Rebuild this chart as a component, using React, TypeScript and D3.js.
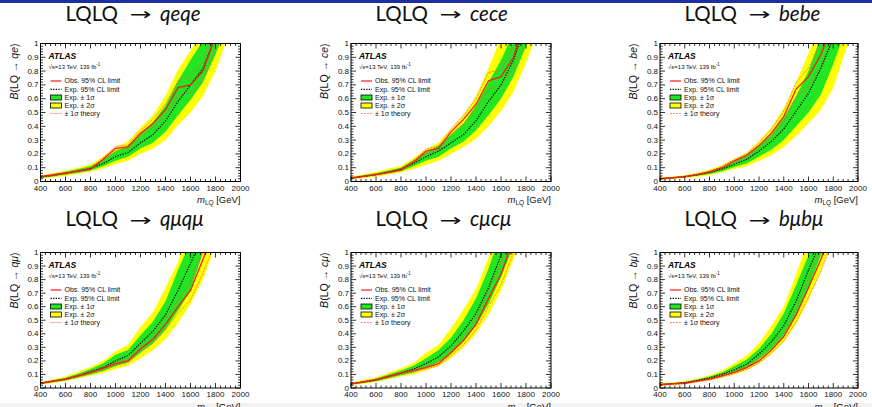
import React from "react";
import * as d3 from "d3";

// ---------- data ----------
const masses = [400, 500, 600, 700, 800, 900, 1000, 1100, 1200, 1300, 1400, 1500, 1600, 1700, 1800, 1900, 2000];
const xTicks = [400, 600, 800, 1000, 1200, 1400, 1600, 1800, 2000];
const yTicks = [0, 0.1, 0.2, 0.3, 0.4, 0.5, 0.6, 0.7, 0.8, 0.9, 1];
const yTickLabels = ["0", "0.1", "0.2", "0.3", "0.4", "0.5", "0.6", "0.7", "0.8", "0.9", "1"];
const titles = ["qeqe", "cece", "bebe", "qμqμ", "cμcμ", "bμbμ"];
const channels = ["qe", "ce", "be", "qμ", "cμ", "bμ"];
const legendLabels = ["Obs. 95% CL limit", "Exp. 95% CL limit", "Exp. ± 1σ", "Exp. ± 2σ", "± 1σ theory"];

// qeqe
const qeObs = [0.036, 0.047, 0.06, 0.075, 0.09, 0.16, 0.24, 0.25, 0.35, 0.42, 0.52, 0.68, 0.70, 0.80, 1.06, 1.3, 1.5];
const qeExp = [0.03, 0.045, 0.06, 0.075, 0.095, 0.13, 0.18, 0.21, 0.28, 0.34, 0.44, 0.58, 0.70, 0.82, 1.05, 1.3, 1.5];
const qeS1Hi = [0.04, 0.055, 0.07, 0.09, 0.11, 0.16, 0.22, 0.26, 0.35, 0.43, 0.55, 0.73, 0.88, 1.02, 1.2, 1.4, 1.6];
const qeS1Lo = [0.025, 0.037, 0.05, 0.063, 0.08, 0.11, 0.15, 0.18, 0.24, 0.28, 0.36, 0.48, 0.59, 0.72, 0.92, 1.15, 1.4];
const qeS2Hi = [0.045, 0.062, 0.08, 0.1, 0.125, 0.18, 0.25, 0.29, 0.39, 0.48, 0.62, 0.81, 0.95, 1.1, 1.3, 1.5, 1.7];
const qeS2Lo = [0.02, 0.03, 0.04, 0.055, 0.07, 0.095, 0.125, 0.15, 0.2, 0.24, 0.3, 0.41, 0.5, 0.62, 0.8, 1.05, 1.3];
const qeThHi = [0.04, 0.051, 0.065, 0.08, 0.097, 0.17, 0.255, 0.265, 0.37, 0.45, 0.56, 0.73, 0.76, 0.87, 1.15, 1.4, 1.6];
const qeThLo = [0.033, 0.043, 0.055, 0.069, 0.083, 0.15, 0.225, 0.235, 0.33, 0.39, 0.48, 0.62, 0.64, 0.74, 0.97, 1.2, 1.4];

// cece
const ceObs = [0.025, 0.037, 0.05, 0.066, 0.085, 0.14, 0.22, 0.24, 0.36, 0.45, 0.56, 0.73, 0.76, 0.9, 1.2, 1.4, 1.6];
const ceExp = [0.025, 0.037, 0.05, 0.068, 0.09, 0.13, 0.18, 0.22, 0.28, 0.34, 0.44, 0.58, 0.70, 0.88, 1.15, 1.4, 1.6];
const ceS1Hi = [0.03, 0.045, 0.06, 0.08, 0.1, 0.155, 0.21, 0.26, 0.34, 0.42, 0.55, 0.72, 0.88, 1.08, 1.3, 1.5, 1.7];
const ceS1Lo = [0.02, 0.032, 0.045, 0.06, 0.075, 0.11, 0.15, 0.18, 0.24, 0.29, 0.37, 0.48, 0.6, 0.76, 0.98, 1.2, 1.4];
const ceS2Hi = [0.035, 0.052, 0.07, 0.092, 0.115, 0.17, 0.235, 0.28, 0.38, 0.48, 0.62, 0.82, 1.05, 1.25, 1.45, 1.65, 1.85];
const ceS2Lo = [0.015, 0.025, 0.035, 0.05, 0.065, 0.09, 0.12, 0.15, 0.2, 0.25, 0.31, 0.4, 0.51, 0.65, 0.86, 1.1, 1.3];
const ceThHi = [0.028, 0.041, 0.055, 0.072, 0.093, 0.15, 0.235, 0.255, 0.38, 0.48, 0.6, 0.79, 0.81, 0.97, 1.3, 1.5, 1.7];
const ceThLo = [0.022, 0.033, 0.045, 0.06, 0.078, 0.13, 0.205, 0.225, 0.34, 0.42, 0.52, 0.67, 0.70, 0.82, 1.1, 1.3, 1.5];

// bebe
const beObs = [0.02, 0.027, 0.035, 0.05, 0.07, 0.1, 0.15, 0.19, 0.26, 0.35, 0.47, 0.67, 0.76, 0.92, 1.15, 1.4, 1.6];
const beExp = [0.02, 0.027, 0.035, 0.048, 0.065, 0.09, 0.125, 0.16, 0.22, 0.29, 0.38, 0.51, 0.64, 0.82, 1.04, 1.3, 1.5];
const beS1Hi = [0.025, 0.032, 0.04, 0.056, 0.075, 0.105, 0.145, 0.19, 0.26, 0.34, 0.46, 0.62, 0.8, 1.05, 1.3, 1.5, 1.7];
const beS1Lo = [0.015, 0.022, 0.03, 0.042, 0.055, 0.075, 0.105, 0.13, 0.18, 0.23, 0.3, 0.4, 0.5, 0.63, 0.85, 1.1, 1.3];
const beS2Hi = [0.03, 0.037, 0.045, 0.063, 0.085, 0.12, 0.165, 0.21, 0.29, 0.39, 0.53, 0.72, 0.93, 1.15, 1.4, 1.6, 1.8];
const beS2Lo = [0.012, 0.018, 0.025, 0.034, 0.045, 0.065, 0.09, 0.11, 0.15, 0.19, 0.25, 0.33, 0.42, 0.52, 0.68, 0.95, 1.2];
const beThHi = [0.023, 0.03, 0.039, 0.055, 0.076, 0.108, 0.16, 0.2, 0.28, 0.38, 0.51, 0.72, 0.82, 1.0, 1.25, 1.5, 1.7];
const beThLo = [0.018, 0.024, 0.032, 0.046, 0.064, 0.093, 0.14, 0.175, 0.24, 0.32, 0.43, 0.61, 0.69, 0.84, 1.05, 1.3, 1.5];

// qmuqmu
const qmObs = [0.035, 0.05, 0.065, 0.09, 0.115, 0.145, 0.18, 0.2, 0.29, 0.36, 0.47, 0.6, 0.72, 0.95, 1.2, 1.4, 1.6];
const qmExp = [0.035, 0.05, 0.065, 0.09, 0.12, 0.15, 0.2, 0.24, 0.33, 0.42, 0.54, 0.72, 0.92, 1.12, 1.35, 1.55, 1.75];
const qmS1Hi = [0.04, 0.057, 0.075, 0.105, 0.14, 0.18, 0.245, 0.28, 0.39, 0.49, 0.64, 0.87, 1.08, 1.3, 1.5, 1.7, 1.9];
const qmS1Lo = [0.03, 0.042, 0.055, 0.078, 0.1, 0.125, 0.16, 0.19, 0.26, 0.33, 0.43, 0.57, 0.72, 1.0, 1.2, 1.4, 1.6];
const qmS2Hi = [0.045, 0.065, 0.085, 0.12, 0.155, 0.2, 0.27, 0.32, 0.45, 0.56, 0.74, 0.93, 1.2, 1.4, 1.6, 1.8, 2.0];
const qmS2Lo = [0.025, 0.037, 0.05, 0.07, 0.09, 0.11, 0.14, 0.165, 0.22, 0.28, 0.36, 0.48, 0.62, 0.8, 1.05, 1.3, 1.5];
const qmThHi = [0.038, 0.054, 0.07, 0.097, 0.123, 0.155, 0.19, 0.215, 0.31, 0.39, 0.51, 0.65, 0.78, 1.03, 1.3, 1.5, 1.7];
const qmThLo = [0.032, 0.046, 0.06, 0.083, 0.107, 0.135, 0.17, 0.185, 0.27, 0.33, 0.43, 0.55, 0.65, 0.85, 1.08, 1.3, 1.5];

// cmucmu
const cmObs = [0.03, 0.045, 0.06, 0.085, 0.11, 0.13, 0.15, 0.18, 0.26, 0.35, 0.47, 0.66, 0.84, 1.1, 1.3, 1.5, 1.7];
const cmExp = [0.03, 0.045, 0.06, 0.085, 0.11, 0.14, 0.18, 0.23, 0.31, 0.42, 0.55, 0.74, 0.98, 1.25, 1.5, 1.7, 1.9];
const cmS1Hi = [0.035, 0.052, 0.07, 0.1, 0.13, 0.165, 0.22, 0.28, 0.37, 0.5, 0.66, 0.88, 1.15, 1.4, 1.6, 1.8, 2.0];
const cmS1Lo = [0.025, 0.037, 0.05, 0.072, 0.095, 0.115, 0.15, 0.19, 0.26, 0.35, 0.46, 0.62, 0.82, 1.05, 1.3, 1.5, 1.7];
const cmS2Hi = [0.04, 0.06, 0.08, 0.112, 0.145, 0.185, 0.26, 0.32, 0.44, 0.58, 0.73, 0.96, 1.2, 1.45, 1.7, 1.9, 2.1];
const cmS2Lo = [0.02, 0.032, 0.045, 0.065, 0.085, 0.1, 0.13, 0.16, 0.22, 0.3, 0.4, 0.54, 0.72, 0.95, 1.2, 1.4, 1.6];
const cmThHi = [0.033, 0.049, 0.065, 0.092, 0.118, 0.14, 0.16, 0.195, 0.28, 0.38, 0.51, 0.72, 0.92, 1.2, 1.4, 1.6, 1.8];
const cmThLo = [0.027, 0.041, 0.055, 0.078, 0.102, 0.12, 0.14, 0.165, 0.24, 0.32, 0.43, 0.6, 0.76, 1.0, 1.2, 1.4, 1.6];

// bmubmu
const bmObs = [0.025, 0.03, 0.035, 0.05, 0.065, 0.09, 0.115, 0.15, 0.2, 0.28, 0.38, 0.54, 0.74, 0.95, 1.2, 1.4, 1.6];
const bmExp = [0.025, 0.032, 0.04, 0.055, 0.075, 0.1, 0.135, 0.175, 0.25, 0.34, 0.46, 0.64, 0.87, 1.08, 1.3, 1.5, 1.7];
const bmS1Hi = [0.03, 0.037, 0.045, 0.063, 0.085, 0.115, 0.16, 0.21, 0.29, 0.4, 0.55, 0.76, 0.98, 1.25, 1.5, 1.7, 1.9];
const bmS1Lo = [0.02, 0.027, 0.035, 0.048, 0.065, 0.085, 0.115, 0.15, 0.21, 0.29, 0.39, 0.54, 0.74, 0.98, 1.2, 1.4, 1.6];
const bmS2Hi = [0.035, 0.042, 0.05, 0.07, 0.095, 0.13, 0.18, 0.24, 0.33, 0.46, 0.6, 0.84, 1.1, 1.35, 1.6, 1.8, 2.0];
const bmS2Lo = [0.015, 0.022, 0.03, 0.042, 0.055, 0.075, 0.1, 0.13, 0.18, 0.25, 0.34, 0.47, 0.65, 0.86, 1.1, 1.3, 1.5];
const bmThHi = [0.028, 0.033, 0.039, 0.055, 0.071, 0.098, 0.125, 0.163, 0.218, 0.305, 0.415, 0.59, 0.81, 1.04, 1.3, 1.5, 1.7];
const bmThLo = [0.022, 0.027, 0.031, 0.045, 0.059, 0.082, 0.105, 0.137, 0.182, 0.255, 0.345, 0.49, 0.67, 0.86, 1.1, 1.3, 1.5];

// ---------- layout ----------
const W = 872;
const H = 407;
const colLeft = [40.5, 351, 660];
const colRight = [240.5, 551, 858];
const rowTop = [43.5, 252.5];
const rowBottom = [181.5, 388];
const titleX = [135, 445, 754];
const titleY = [20.5, 226];
const ylabX = [18, 328, 637];

const GREEN = "#22e622";
const YELLOW = "#ffff00";
const RED = "#ff1a1a";
const TICKFONT = "'Liberation Sans', Arial, sans-serif";
const TITLEFONT = "Lato, 'DejaVu Sans', sans-serif";

type PanelData = {
  obs: number[]; exp: number[]; s1Hi: number[]; s1Lo: number[];
  s2Hi: number[]; s2Lo: number[]; thHi: number[]; thLo: number[];
};

const panelData: PanelData[] = [
  { obs: qeObs, exp: qeExp, s1Hi: qeS1Hi, s1Lo: qeS1Lo, s2Hi: qeS2Hi, s2Lo: qeS2Lo, thHi: qeThHi, thLo: qeThLo },
  { obs: ceObs, exp: ceExp, s1Hi: ceS1Hi, s1Lo: ceS1Lo, s2Hi: ceS2Hi, s2Lo: ceS2Lo, thHi: ceThHi, thLo: ceThLo },
  { obs: beObs, exp: beExp, s1Hi: beS1Hi, s1Lo: beS1Lo, s2Hi: beS2Hi, s2Lo: beS2Lo, thHi: beThHi, thLo: beThLo },
  { obs: qmObs, exp: qmExp, s1Hi: qmS1Hi, s1Lo: qmS1Lo, s2Hi: qmS2Hi, s2Lo: qmS2Lo, thHi: qmThHi, thLo: qmThLo },
  { obs: cmObs, exp: cmExp, s1Hi: cmS1Hi, s1Lo: cmS1Lo, s2Hi: cmS2Hi, s2Lo: cmS2Lo, thHi: cmThHi, thLo: cmThLo },
  { obs: bmObs, exp: bmExp, s1Hi: bmS1Hi, s1Lo: bmS1Lo, s2Hi: bmS2Hi, s2Lo: bmS2Lo, thHi: bmThHi, thLo: bmThLo },
];

function Title({ cx, cy, text }: { cx: number; cy: number; text: string }) {
  return (
    <g fill="#111">
      <text x={cx - 17} y={cy} textAnchor="end" fontFamily={TITLEFONT} fontSize={20.5}>
        LQLQ
      </text>
      <text transform={`translate(${cx + 5.5},${cy - 0.5}) scale(1.55,1)`} textAnchor="middle" fontFamily="'DejaVu Sans', sans-serif" fontSize={17}>
        →
      </text>
      <text x={cx + 25} y={cy} textAnchor="start" fontFamily={TITLEFONT} fontSize={20.5} fontStyle="italic">
        {text}
      </text>
    </g>
  );
}

function Panel({ idx }: { idx: number }) {
  const col = idx % 3;
  const row = Math.floor(idx / 3);
  const L = colLeft[col];
  const R = colRight[col];
  const T = rowTop[row];
  const B = rowBottom[row];
  const d = panelData[idx];
  const x = d3.scaleLinear().domain([400, 2000]).range([L, R]);
  const y = d3.scaleLinear().domain([0, 1]).range([B, T]);
  const pts = (arr: number[]) => masses.map((m, i) => [m, arr[i]] as [number, number]);
  const line = d3.line<[number, number]>().x((p) => x(p[0])).y((p) => y(p[1]));
  const band = (lo: number[], hi: number[]) =>
    d3.area<number>().x((m) => x(m)).y0((_, i) => y(lo[i])).y1((_, i) => y(hi[i]))(masses) || "";
  const clipId = `clip${idx}`;

  const xMinor = d3.range(400, 2000.1, 40);
  const yMinor = d3.range(0, 1.0001, 0.02);
  const majLen = 5;
  const minLen = 2.5;

  const legY = [T + 37.5, T + 45.8, T + 54, T + 62, T + 70];
  const lx0 = L + 10;
  const lx1 = L + 21;
  const tx = L + 24;

  return (
    <g>
      <defs>
        <clipPath id={clipId}>
          <rect x={L} y={T} width={R - L} height={B - T} />
        </clipPath>
      </defs>
      <Title cx={titleX[col]} cy={titleY[row]} text={titles[idx]} />
      <g clipPath={`url(#${clipId})`}>
        <path d={band(d.s2Lo, d.s2Hi)} fill={YELLOW} />
        <path d={band(d.s1Lo, d.s1Hi)} fill={GREEN} />
        <path d={line(pts(d.thHi)) || ""} fill="none" stroke="#ff5555" strokeWidth={0.7} strokeDasharray="2,1" />
        <path d={line(pts(d.thLo)) || ""} fill="none" stroke="#ff5555" strokeWidth={0.7} strokeDasharray="2,1" />
        <path d={line(pts(d.exp)) || ""} fill="none" stroke="#000" strokeWidth={1.2} strokeDasharray="1.3,1.3" />
        <path d={line(pts(d.obs)) || ""} fill="none" stroke={RED} strokeWidth={1.3} />
      </g>
      {/* frame */}
      <rect x={L} y={T} width={R - L} height={B - T} fill="none" stroke="#000" strokeWidth={1} />
      {/* ticks */}
      {xMinor.map((m) => {
        const maj = (m - 400) % 200 === 0;
        const len = maj ? majLen : minLen;
        return (
          <g key={`xt${m}`}>
            <line x1={x(m)} x2={x(m)} y1={B} y2={B - len} stroke="#000" strokeWidth={0.8} />
            <line x1={x(m)} x2={x(m)} y1={T} y2={T + len} stroke="#000" strokeWidth={0.8} />
          </g>
        );
      })}
      {yMinor.map((v, i) => {
        const maj = i % 5 === 0;
        const len = maj ? majLen : minLen;
        return (
          <g key={`yt${i}`}>
            <line x1={L} x2={L + len} y1={y(v)} y2={y(v)} stroke="#000" strokeWidth={0.8} />
            <line x1={R} x2={R - len} y1={y(v)} y2={y(v)} stroke="#000" strokeWidth={0.8} />
          </g>
        );
      })}
      {xTicks.map((m) => (
        <text key={`xl${m}`} x={x(m)} y={B + 9} textAnchor="middle" fontFamily={TICKFONT} fontSize={8} fill="#111">
          {m}
        </text>
      ))}
      {yTicks.map((v, i) => (
        <text key={`yl${i}`} x={L - 2} y={y(v) + 2.5} textAnchor="end" fontFamily={TICKFONT} fontSize={8} fill="#111">
          {yTickLabels[i]}
        </text>
      ))}
      {/* axis titles */}
      <text x={R} y={B + 21.5} textAnchor="end" fontFamily={TICKFONT} fontSize={9.5} fill="#111">
        <tspan fontStyle="italic">m</tspan>
        <tspan fontSize={6.5} dy={2}>LQ</tspan>
        <tspan dy={-2}> [GeV]</tspan>
      </text>
      <text transform={`translate(${ylabX[col]},${T}) rotate(-90)`} textAnchor="end" fontFamily={TICKFONT} fontSize={10.5} fill="#111">
        <tspan fontStyle="italic">B</tspan>(LQ → <tspan fontStyle="italic">{channels[idx]}</tspan>)
      </text>
      {/* ATLAS label */}
      <text x={L + 8} y={T + 15.5} fontFamily={TICKFONT} fontSize={8.5} fontWeight="bold" fontStyle="italic" fill="#000">
        ATLAS
      </text>
      <text x={L + 8} y={T + 25} fontFamily={TICKFONT} fontSize={6} fill="#111">
        √s=13 TeV, 139 fb<tspan fontSize={4.5} dy={-2.5}>-1</tspan>
      </text>
      {/* legend */}
      <line x1={lx0} x2={lx1} y1={legY[0]} y2={legY[0]} stroke={RED} strokeWidth={1.2} />
      <line x1={lx0} x2={lx1} y1={legY[1]} y2={legY[1]} stroke="#000" strokeWidth={1.2} strokeDasharray="1.3,1.3" />
      <rect x={lx0} y={legY[2] - 2.5} width={lx1 - lx0} height={5} fill={GREEN} stroke="#000" strokeWidth={0.8} />
      <rect x={lx0} y={legY[3] - 2.5} width={lx1 - lx0} height={5} fill={YELLOW} stroke="#000" strokeWidth={0.8} />
      <line x1={lx0} x2={lx1} y1={legY[4]} y2={legY[4]} stroke="#ff5555" strokeWidth={0.7} strokeDasharray="2,1" />
      {legendLabels.map((s, i) => (
        <text key={`lg${i}`} x={tx} y={legY[i] + 2.4} fontFamily={TICKFONT} fontSize={7} fill="#111">
          {s}
        </text>
      ))}
    </g>
  );
}

export default function App() {
  return (
    <svg width={W} height={H} style={{ position: "absolute", left: 0, top: 0, display: "block" }} xmlns="http://www.w3.org/2000/svg">
      <rect x={0} y={0} width={W} height={H} fill="#fff" />
      <rect x={0} y={403} width={W} height={4} fill="#f2f2f2" />
      {titles.map((_, i) => (
        <Panel key={i} idx={i} />
      ))}
      <rect x={0} y={0} width={W} height={3} fill="#1b2f9f" />
    </svg>
  );
}
